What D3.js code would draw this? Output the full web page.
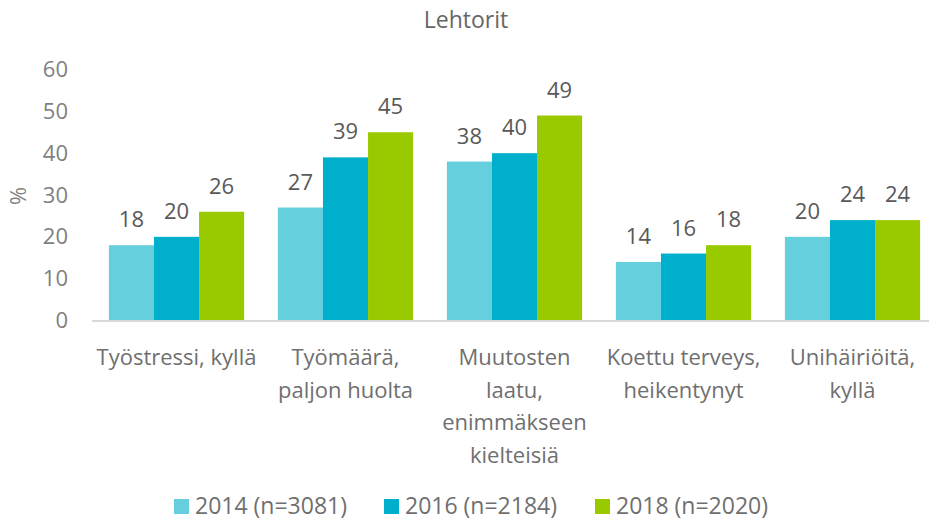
<!DOCTYPE html>
<html lang="fi">
<head>
<meta charset="UTF-8">
<title>Lehtorit</title>
<style>
  body { margin: 0; background: #fff; }
  svg text { font-family: "Open Sans", "Noto Sans", sans-serif; }
</style>
</head>
<body>
<script src="https://d3js.org/d3.v7.min.js"></script>
<script>
// data
const categories = [
  ["Työstressi, kyllä"],
  ["Työmäärä,", "paljon huolta"],
  ["Muutosten", "laatu,", "enimmäkseen", "kielteisiä"],
  ["Koettu terveys,", "heikentynyt"],
  ["Unihäiriöitä,", "kyllä"]
];
const seriesNames = ["2014 (n=3081)", "2016 (n=2184)", "2018 (n=2020)"];
const values2014 = [18, 27, 38, 14, 20];
const values2016 = [20, 39, 40, 16, 24];
const values2018 = [26, 45, 49, 18, 24];
const yTicks = [0, 10, 20, 30, 40, 50, 60];

const colors = ["#66cfde", "#00afcb", "#99ca00"];
const series = [values2014, values2016, values2018];

const width = 929, height = 521;
const svg = d3.select("body").append("svg")
  .attr("width", width)
  .attr("height", height);

const x0 = d3.scaleBand()
  .domain(d3.range(categories.length))
  .range([92, 937])
  .paddingInner(0.2)
  .paddingOuter(0.1);

const x1 = d3.scaleBand()
  .domain(d3.range(series.length))
  .range([0, x0.bandwidth()]);

const y = d3.scaleLinear().domain([0, 60]).range([320.5, 69.5]);

// title
svg.append("text")
  .attr("x", 466).attr("y", 28)
  .attr("text-anchor", "middle")
  .attr("fill", "#666")
  .style("font-size", "23px")
  .text("Lehtorit");

// y axis labels
const yAxis = d3.axisLeft(y).tickValues(yTicks).tickSize(0).tickPadding(0);
const gy = svg.append("g")
  .attr("transform", "translate(68,0)")
  .call(yAxis);
gy.select(".domain").remove();
gy.selectAll("text")
  .attr("fill", "#7f7f7f")
  .style("font-size", "22px")
  .style("font-family", "'Open Sans', sans-serif");

svg.append("text")
  .attr("transform", "translate(26,196) rotate(-90)")
  .attr("text-anchor", "middle")
  .attr("fill", "#7f7f7f")
  .style("font-size", "22px")
  .text("%");

// bars
const groups = svg.selectAll("g.group")
  .data(categories)
  .join("g")
  .attr("class", "group")
  .attr("transform", (d, i) => `translate(${x0(i)},0)`);

groups.each(function(c, ci) {
  const g = d3.select(this);
  series.forEach((vals, si) => {
    g.append("rect")
      .attr("x", x1(si))
      .attr("y", y(vals[ci]))
      .attr("width", x1.bandwidth())
      .attr("height", y(0) - y(vals[ci]))
      .attr("fill", colors[si]);
    g.append("text")
      .attr("x", x1(si) + x1.bandwidth() / 2)
      .attr("y", y(vals[ci]) - 18)
      .attr("text-anchor", "middle")
      .attr("fill", "#595959")
      .style("font-size", "22px")
      .text(vals[ci]);
  });
});

// x axis line
svg.append("line")
  .attr("x1", 92).attr("x2", width)
  .attr("y1", y(0) + 0.5).attr("y2", y(0) + 0.5)
  .attr("stroke", "#d9d9d9")
  .attr("stroke-width", 2);

// category labels
groups.each(function(lines) {
  const t = d3.select(this).append("text")
    .attr("text-anchor", "middle")
    .attr("fill", "#6f6f6f")
    .style("font-size", "22px");
  lines.forEach((line, li) => {
    t.append("tspan")
      .attr("x", x0.bandwidth() / 2)
      .attr("y", 365 + li * 32.5)
      .text(line);
  });
});

// legend
const legendX = [174, 384, 595];
const legend = svg.selectAll("g.legend")
  .data(seriesNames)
  .join("g")
  .attr("class", "legend")
  .attr("transform", (d, i) => `translate(${legendX[i]},499)`);
legend.append("rect")
  .attr("width", 15).attr("height", 15)
  .attr("fill", (d, i) => colors[i]);
legend.append("text")
  .attr("x", 21).attr("y", 15)
  .attr("fill", "#6f6f6f")
  .style("font-size", "23px")
  .text(d => d);
</script>
</body>
</html>
